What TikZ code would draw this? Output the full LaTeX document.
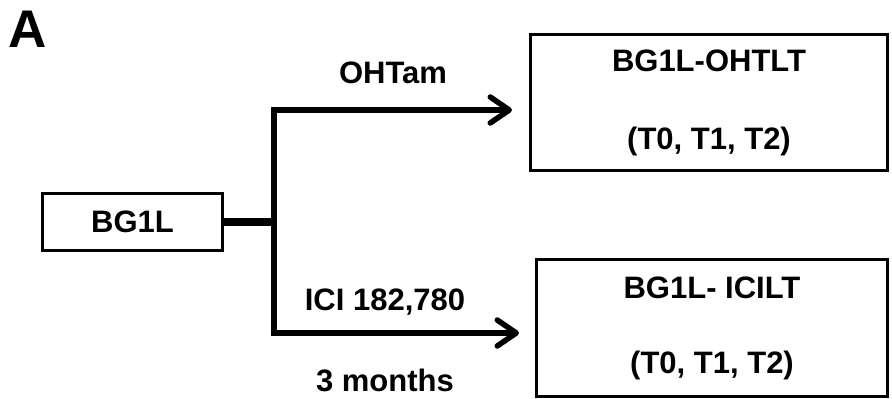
\documentclass[tikz,border=0pt]{standalone}
\usepackage{fontspec}
\setmainfont{Liberation Sans}
\usetikzlibrary{arrows.meta,positioning}

\begin{document}
\begin{tikzpicture}[x=1pt, y=-1pt,
                    box/.style={draw, line width=3pt, inner sep=0pt, align=center,
                                font=\fontsize{31}{37}\selectfont\bfseries},
                    lbl/.style={inner sep=0pt, font=\fontsize{31}{37}\selectfont\bfseries},
                    >={Straight Barb[length=19pt,width=26pt,line cap=round,line join=round]},
                    branch/.style={line width=5.5pt, line join=miter, <->}]

  \useasboundingbox (0,0) rectangle (892,399);

  \node[inner sep=0pt, font=\fontsize{53}{60}\selectfont\bfseries] (panel) at (27.5,29) {A};

  \node[box, minimum width=180pt, minimum height=57pt] (bg) at (132.5,221.5) {BG1L};
  \node[box, minimum width=357pt, minimum height=136pt] (ohbox) at (709,102.5)
       {BG1L-OHTLT\\[41pt](T0, T1, T2)};
  \node[box, minimum width=351pt, minimum height=137pt] (icibox) at (712,328)
       {BG1L- ICILT\\[38pt](T0, T1, T2)};

  \coordinate (ftop) at (274,110);
  \coordinate (fbot) at (274,333);

  % stub and fork
  \draw[line width=8pt] (bg.east) -- (bg.east -| ftop);
  \draw[branch, shorten <=17pt, shorten >=16pt]
      (ftop -| ohbox.west) -- (ftop) -- (fbot) -- (fbot -| icibox.west);

  \node[lbl] (oht) at (393,73) {OHTam};
  \node[lbl] (ici) at (385,302) {ICI 182,780};
  \node[lbl] (mon) at (385,380) {3 months};

\end{tikzpicture}
\end{document}
